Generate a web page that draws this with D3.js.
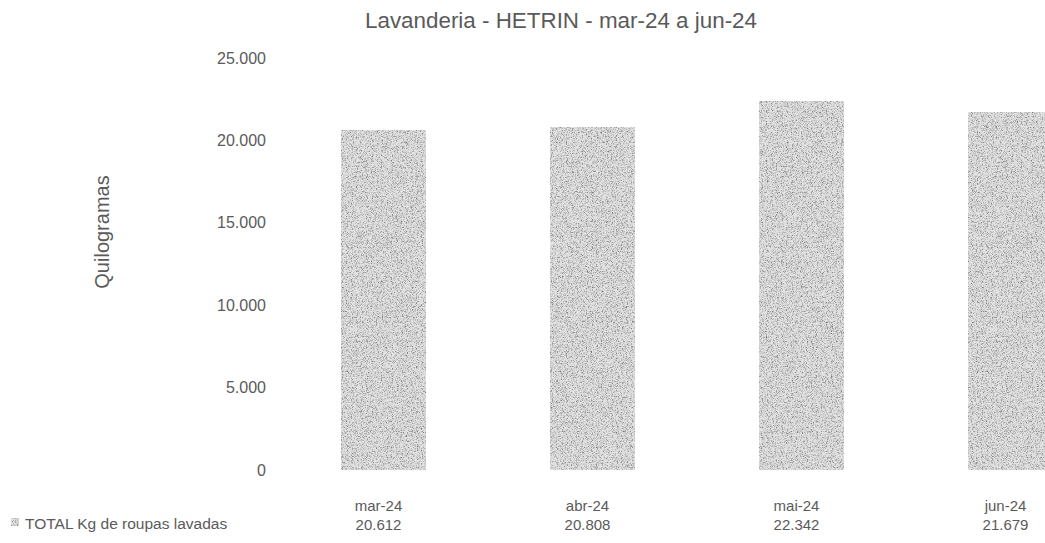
<!DOCTYPE html>
<html><head><meta charset="utf-8">
<script src="https://cdn.jsdelivr.net/npm/d3@7/dist/d3.min.js"></script>
<style>body{margin:0;background:#fff}svg{display:block}text{font-family:"Liberation Sans",Arial,sans-serif;fill:#5a5a5a}</style>
</head><body><svg id="c" width="1045" height="543"></svg>
<script>
const title = "Lavanderia - HETRIN - mar-24 a jun-24";
const yTitle = "Quilogramas";
const seriesName = "TOTAL Kg de roupas lavadas";
const categories = ["mar-24", "abr-24", "mai-24", "jun-24"];
const values = [20612, 20808, 22342, 21679];
const yTicks = [0, 5000, 10000, 15000, 20000, 25000];

const svg = d3.select("#c");
const defs = svg.append("defs");
const f = defs.append("filter").attr("id","grain").attr("x",0).attr("y",0).attr("width","100%").attr("height","100%");
f.append("feTurbulence").attr("type","fractalNoise").attr("baseFrequency",1.2).attr("numOctaves",1).attr("seed",3).attr("result","n");
f.append("feColorMatrix").attr("in","n").attr("type","matrix")
  .attr("values","0 0 0 0 0  0 0 0 0 0  0 0 0 0 0  -3.2 0 0 0 1.75").attr("result","a");
f.append("feFlood").attr("flood-color","#7a7a7a").attr("result","dk");
f.append("feComposite").attr("in","dk").attr("in2","a").attr("operator","in").attr("result","dots");
f.append("feFlood").attr("flood-color","#e2e2e2").attr("result","bg");
f.append("feMerge").call(m=>{m.append("feMergeNode").attr("in","bg");m.append("feMergeNode").attr("in","dots");});

const fmt = v => d3.format(",")(v).replace(/,/g, ".");

const y = d3.scaleLinear().domain([0, 25000]).range([470, 58]);
const x = d3.scaleBand().domain(categories).range([279, 1115]).paddingInner(0.6).paddingOuter(0.3);

svg.append("text").attr("x", 561).attr("y", 28).attr("text-anchor","middle")
  .style("font-size","22.4px").text(title);

const yAxis = d3.axisLeft(y).tickValues(yTicks).tickFormat(fmt).tickSize(0).tickPadding(0);
const ga = svg.append("g").attr("transform","translate(266,0)").call(yAxis);
ga.select(".domain").remove();
ga.selectAll("text").style("font-size","16px").attr("fill","#5a5a5a").style("font-family","Liberation Sans, Arial, sans-serif");

svg.append("text").attr("transform","translate(109,232) rotate(-90)").attr("text-anchor","middle")
  .style("font-size","20px").text(yTitle);

svg.append("g").selectAll("rect").data(values).join("rect")
  .attr("x",(d,i)=>x(categories[i])).attr("width",x.bandwidth())
  .attr("y",d=>y(d)).attr("height",d=>y(0)-y(d))
  .attr("fill","#ccc").attr("filter","url(#grain)");

svg.append("g").selectAll("text").data(categories).join("text")
  .attr("x",d=>x(d)+x.bandwidth()/2 - 5).attr("y",511).attr("text-anchor","middle")
  .style("font-size","15px").text(d=>d);
svg.append("g").selectAll("text").data(values).join("text")
  .attr("x",(d,i)=>x(categories[i])+x.bandwidth()/2 - 5).attr("y",530).attr("text-anchor","middle")
  .style("font-size","15px").text(d=>fmt(d));

svg.append("rect").attr("x",11).attr("y",518).attr("width",8).attr("height",8).attr("fill","#ccc").attr("filter","url(#grain)");
svg.append("text").attr("x",25).attr("y",529).style("font-size","15.5px").text(seriesName);
</script></body></html>
